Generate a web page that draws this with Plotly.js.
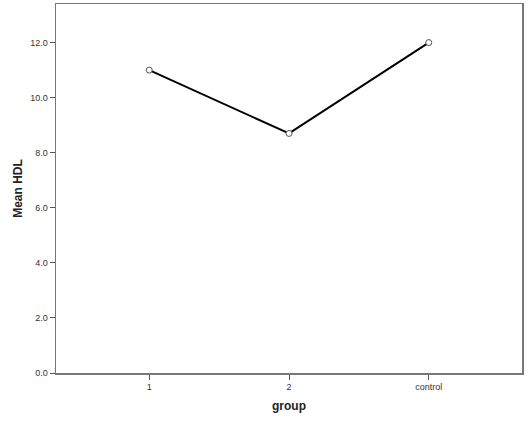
<!DOCTYPE html>
<html>
<head>
<meta charset="utf-8">
<script src="https://cdn.plot.ly/plotly-3.0.1.min.js"></script>
<style>
  html, body { margin: 0; padding: 0; background: #fff; }
  #grafico { width: 529px; height: 424px; }
</style>
</head>
<body>
<div id="grafico"></div>
<script>
let grupos = ['1', '2', 'control'];
let mediaHDL = [11.0, 8.7, 12.0];
let ticksY = [0, 2, 4, 6, 8, 10, 12];
let etiquetasY = ticksY.map(v => v.toFixed(1));

let graf =
{
    x: grupos,
    y: mediaHDL,
    type: 'scatter',
    mode: 'lines+markers',
    line: { color: '#000000', width: 2 },
    marker: { symbol: 'circle', size: 6, color: '#ffffff', line: { color: '#555555', width: 1 } },
    cliponaxis: false
}

let layout =
{
    width: 529,
    height: 424,
    margin: { l: 56, r: 7, t: 4, b: 51 },
    paper_bgcolor: '#ffffff',
    plot_bgcolor: '#ffffff',
    font: { family: 'Arial, "Liberation Sans", sans-serif', color: '#222222' },
    xaxis: {
        title: { text: '<b>group</b>', font: { size: 12, color: '#222' }, standoff: 10 },
        type: 'category',
        range: [-0.667, 2.667],
        showgrid: false,
        zeroline: false,
        showline: true,
        linecolor: '#777777',
        linewidth: 1.5,
        mirror: true,
        ticks: 'outside',
        ticklen: 5,
        tickcolor: '#555555',
        tickfont: { size: 9, color: '#333' }
    },
    yaxis: {
        title: { text: '<b>Mean HDL</b>', font: { size: 12, color: '#222' }, standoff: 5 },
        automargin: true,
        range: [0, 13.4],
        tickvals: ticksY,
        ticktext: etiquetasY,
        showgrid: false,
        zeroline: false,
        showline: true,
        linecolor: '#777777',
        linewidth: 1.5,
        mirror: true,
        ticks: 'outside',
        ticklen: 5,
        tickcolor: '#555555',
        tickfont: { size: 9, color: '#333' }
    },
    showlegend: false
}

let contenedor = document.getElementById("grafico");
Plotly.newPlot(contenedor, [graf], layout, { displayModeBar: false, staticPlot: true });
</script>
</body>
</html>
